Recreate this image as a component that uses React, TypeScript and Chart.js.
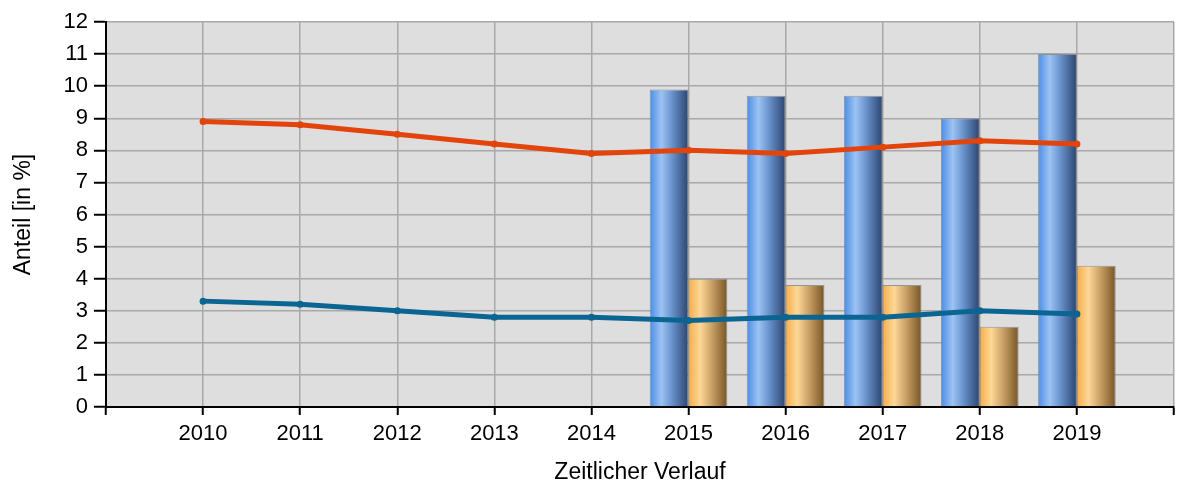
import React, { useEffect, useRef } from 'react';
import { Chart, registerables } from 'chart.js';

Chart.register(...registerables);

// Categories: blank slots at both ends give the extra space left and right
const categories = ['', '2010', '2011', '2012', '2013', '2014', '2015', '2016', '2017', '2018', '2019', ''];
const redLine = [null, 8.9, 8.8, 8.5, 8.2, 7.9, 8.0, 7.9, 8.1, 8.3, 8.2, null];
const blueLine = [null, 3.3, 3.2, 3.0, 2.8, 2.8, 2.7, 2.8, 2.8, 3.0, 2.9, null];
const blueBars = [null, null, null, null, null, null, 9.9, 9.7, 9.7, 9.0, 11.0, null];
const orangeBars = [null, null, null, null, null, null, 4.0, 3.8, 3.8, 2.5, 4.4, null];
const yMin = 0;
const yMax = 12;
const yStep = 1;

const CAT_PCT = 0.8;
const BAR_PCT = 1.0;

const FONT = "'Liberation Sans', Arial, sans-serif";

function barGradient(ctx: any, stops: [number, string][], side: number, fallback: string) {
  const chart = ctx.chart;
  const xs = chart.scales && chart.scales.x;
  if (!xs || ctx.type !== 'data' || !chart.chartArea) return fallback;
  const c = xs.getPixelForValue(ctx.dataIndex);
  const spacing = xs.getPixelForValue(1) - xs.getPixelForValue(0);
  const bw = (spacing * CAT_PCT * BAR_PCT) / 2;
  const left = side < 0 ? c - bw : c;
  const right = left + bw;
  const g = chart.ctx.createLinearGradient(left, 0, right, 0);
  stops.forEach(([o, col]) => g.addColorStop(o, col));
  return g;
}

const blueStops: [number, string][] = [
  [0, '#4a8de8'],
  [0.3, '#9cc3f3'],
  [0.55, '#6d97d0'],
  [1, '#2a4470'],
];
const orangeStops: [number, string][] = [
  [0, '#f7ad48'],
  [0.3, '#fdd797'],
  [0.6, '#c9a066'],
  [1, '#785524'],
];

const plotBg = {
  id: 'plotBg',
  beforeDraw(chart: any) {
    const { ctx, chartArea } = chart;
    if (!chartArea) return;
    ctx.save();
    ctx.fillStyle = '#dedede';
    ctx.fillRect(chartArea.left, chartArea.top, chartArea.right - chartArea.left, chartArea.bottom - chartArea.top);
    ctx.restore();
  },
};

export default function App() {
  const ref = useRef<HTMLCanvasElement | null>(null);

  useEffect(() => {
    document.body.style.margin = '0';
    document.body.style.overflow = 'hidden';
    if (!ref.current) return;
    const chart = new Chart(ref.current, {
      type: 'bar',
      data: {
        labels: categories,
        datasets: [
          {
            type: 'line',
            label: 'rot',
            data: redLine,
            borderColor: '#e2440c',
            backgroundColor: '#e2440c',
            borderWidth: 5,
            pointRadius: 3.5,
            pointBorderWidth: 0,
            tension: 0,
            order: 0,
          },
          {
            type: 'line',
            label: 'blau',
            data: blueLine,
            borderColor: '#0b6593',
            backgroundColor: '#0b6593',
            borderWidth: 5,
            pointRadius: 3.5,
            pointBorderWidth: 0,
            tension: 0,
            order: 0,
          },
          {
            type: 'bar',
            label: 'Balken blau',
            data: blueBars,
            backgroundColor: (c: any) => barGradient(c, blueStops, -1, '#5b8fd0'),
            borderColor: 'rgba(120,120,120,0.7)',
            borderWidth: 1,
            categoryPercentage: CAT_PCT,
            barPercentage: BAR_PCT,
            order: 1,
          },
          {
            type: 'bar',
            label: 'Balken orange',
            data: orangeBars,
            backgroundColor: (c: any) => barGradient(c, orangeStops, 1, '#e0b070'),
            borderColor: 'rgba(120,120,120,0.7)',
            borderWidth: 1,
            categoryPercentage: CAT_PCT,
            barPercentage: BAR_PCT,
            order: 1,
          },
        ],
      },
      options: {
        responsive: false,
        animation: false,
        devicePixelRatio: 1,
        layout: { padding: { top: 22, right: -4, left: 0, bottom: 0 } },
        plugins: {
          legend: { display: false },
          tooltip: { enabled: false },
        },
        scales: {
          x: {
            type: 'category',
            offset: false,
            grid: {
              offset: false,
              color: '#a8a8a8',
              lineWidth: 1.5,
              tickColor: '#000',
              tickLength: 8,
              tickWidth: 2,
              drawTicks: true,
            },
            border: { color: '#000', width: 2 },
            ticks: {
              color: '#000',
              font: { family: FONT, size: 22 },
              padding: 6,
              maxRotation: 0,
              autoSkip: false,
            },
            title: {
              display: true,
              text: 'Zeitlicher Verlauf',
              color: '#000',
              font: { family: FONT, size: 23 },
              padding: { top: 2, bottom: 0 },
            },
            afterFit(scale: any) {
              scale.height = 79;
              scale.paddingLeft = 0;
              scale.paddingRight = 0;
            },
          },
          y: {
            min: yMin,
            max: yMax,
            grid: {
              color: '#a8a8a8',
              lineWidth: 1.5,
              tickColor: '#000',
              tickLength: 12,
              tickWidth: 2,
            },
            border: { color: '#000', width: 2 },
            ticks: {
              stepSize: yStep,
              color: '#000',
              font: { family: FONT, size: 22 },
              padding: 6,
            },
            title: {
              display: true,
              text: 'Anteil [in %]',
              color: '#000',
              font: { family: FONT, size: 23 },
              padding: { top: 10, bottom: 2 },
            },
            afterFit(scale: any) {
              scale.width = 106;
            },
          },
        },
      },
      plugins: [plotBg],
    });
    return () => chart.destroy();
  }, []);

  return (
    <div style={{ width: 1178, height: 486 }}>
      <canvas ref={ref} width={1178} height={486} />
    </div>
  );
}
